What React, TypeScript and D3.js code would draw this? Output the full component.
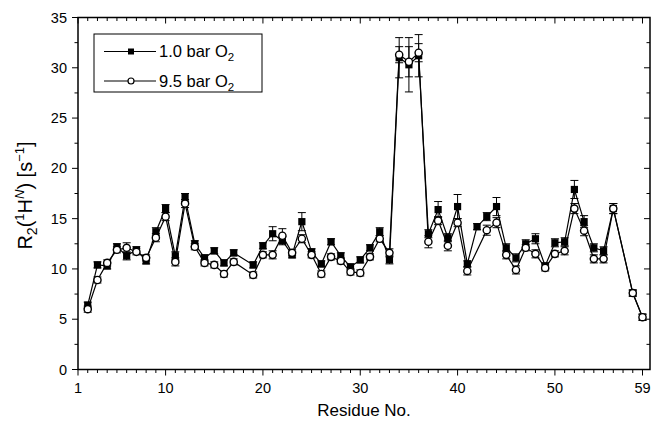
import React from "react";
import * as d3 from "d3";

const residues = [2,3,4,5,6,7,8,9,10,11,12,13,14,15,16,17,19,20,21,22,23,24,25,26,27,28,29,30,31,32,33,34,35,36,37,38,39,40,41,42,43,44,45,46,47,48,49,50,51,52,53,54,55,56,58,59];
const r1bar = [6.4,10.4,10.3,12.2,11.3,11.9,10.8,13.7,16.0,11.3,17.1,12.5,11.1,11.8,10.6,11.6,10.4,12.3,13.5,12.8,11.4,14.7,11.7,10.5,12.7,11.3,10.2,10.9,12.1,13.7,10.9,31.0,30.3,31.2,13.5,15.9,13.1,16.2,10.5,14.2,15.2,16.2,12.1,11.1,12.5,13.0,10.3,12.6,12.7,17.9,14.7,12.1,11.8,16.0,7.6,5.2];
const err1bar = [0.3,0.3,0.3,0.3,0.4,0.3,0.3,0.4,0.4,0.4,0.4,0.3,0.3,0.3,0.3,0.3,0.3,0.3,0.7,0.4,0.3,0.9,0.3,0.3,0.3,0.3,0.3,0.3,0.3,0.4,0.4,2.0,2.7,2.1,0.4,0.8,0.4,1.2,0.3,0.3,0.4,0.9,0.4,0.4,0.4,0.5,0.3,0.4,0.4,0.9,0.6,0.4,0.4,0.5,0.3,0.3];
const r9bar = [6.0,8.9,10.6,11.9,12.1,11.7,11.1,13.1,15.2,10.7,16.5,12.2,10.6,10.4,9.5,10.7,9.4,11.4,11.4,13.3,11.6,13.0,11.4,9.5,11.2,10.8,9.7,9.6,11.2,13.0,11.6,31.3,30.6,31.5,12.7,14.8,12.3,14.6,9.8,null,13.85,14.6,11.4,9.9,12.1,11.5,10.1,11.5,11.8,16.0,13.8,11.0,11.0,16.0,7.6,5.2];
const err9bar = [0.3,0.3,0.3,0.3,0.5,0.3,0.3,0.4,0.4,0.4,0.4,0.3,0.3,0.3,0.3,0.3,0.3,0.3,0.4,0.7,0.3,0.4,0.3,0.3,0.3,0.3,0.3,0.3,0.3,0.3,0.4,0.8,1.5,0.9,0.6,0.4,0.5,0.4,0.4,0,0.5,0.5,0.4,0.4,0.3,0.4,0.3,0.3,0.4,0.5,0.5,0.4,0.4,0.5,0.3,0.3];

const xMajor = [1,10,20,30,40,50,59];
const yMajor = [0,5,10,15,20,25,30,35];

const W = 652, H = 423;
const L = 78, R = 650, T = 17.5, B = 369.5;

export default function App() {
  const x = d3.scaleLinear().domain([1, 59.77]).range([L, R]);
  const y = d3.scaleLinear().domain([0, 35]).range([B, T]);
  const font = "Liberation Sans, Arial, Helvetica, sans-serif";

  const s1 = residues.map((r, i) => ({ r, v: r1bar[i], e: err1bar[i] }));
  const s9 = residues.map((r, i) => ({ r, v: r9bar[i], e: err9bar[i] })).filter(d => d.v != null) as { r: number; v: number; e: number }[];

  const line = d3.line<{ r: number; v: number }>().x(d => x(d.r)).y(d => y(d.v));

  const xMinor = d3.range(1, 60);
  const yMinor = d3.range(0, 35.01, 2.5);

  const errBars = (data: { r: number; v: number; e: number }[], key: string) =>
    data.map((d, i) => {
      if (!d.e) return null;
      const cx = x(d.r);
      const y1 = y(d.v + d.e), y2 = y(d.v - d.e);
      return (
        <g key={key + i} stroke="#000" strokeWidth={1}>
          <line x1={cx} x2={cx} y1={y1} y2={y2} />
          <line x1={cx - 4} x2={cx + 4} y1={y1} y2={y1} />
          <line x1={cx - 4} x2={cx + 4} y1={y2} y2={y2} />
        </g>
      );
    });

  return (
    <svg width={W} height={H} style={{ display: "block", position: "absolute", left: 0, top: 0 }} fontFamily={font}>
      <rect x={0} y={0} width={W} height={H} fill="#fff" />
      <rect x={L} y={T} width={R - L} height={B - T} fill="none" stroke="#000" strokeWidth={1.5} />
      {xMinor.map(v => {
        const major = xMajor.includes(v);
        const len = major ? 6 : 3.5;
        return (
          <g key={"xt" + v} stroke="#000" strokeWidth={1}>
            <line x1={x(v)} x2={x(v)} y1={B} y2={B + len} />
            <line x1={x(v)} x2={x(v)} y1={T} y2={T + len} />
          </g>
        );
      })}
      {xMajor.map(v => (
        <text key={"xl" + v} x={x(v)} y={393} fontSize={14.5} textAnchor="middle">{v}</text>
      ))}
      {yMinor.map(v => {
        const major = v % 5 === 0;
        const len = major ? 6 : 3.5;
        return (
          <g key={"yt" + v} stroke="#000" strokeWidth={1}>
            <line x1={L - len} x2={L} y1={y(v)} y2={y(v)} />
            <line x1={R - len} x2={R} y1={y(v)} y2={y(v)} />
          </g>
        );
      })}
      {yMajor.map(v => (
        <text key={"yl" + v} x={67} y={y(v) + 5} fontSize={14.5} textAnchor="end">{v}</text>
      ))}
      <text x={(L + R) / 2} y={416} fontSize={17} textAnchor="middle">Residue No.</text>
      <text transform={`translate(32,${(T + B) / 2 + 2}) rotate(-90)`} fontSize={20} textAnchor="middle">
        R<tspan fontSize={14} dy={5}>2</tspan>
        <tspan dy={-5}>(</tspan>
        <tspan fontSize={13} dy={-8}>1</tspan>
        <tspan dy={8}>H</tspan>
        <tspan fontSize={13} dy={-8} fontStyle="italic">N</tspan>
        <tspan dy={8}>) [s</tspan>
        <tspan fontSize={13} dy={-8}>−1</tspan>
        <tspan dy={8}>]</tspan>
      </text>
      <path d={line(s1) || ""} fill="none" stroke="#000" strokeWidth={1.2} />
      <path d={line(s9) || ""} fill="none" stroke="#000" strokeWidth={1.2} />
      {errBars(s1, "e1")}
      {errBars(s9, "e9")}
      {s1.map((d, i) => (
        <rect key={"m1" + i} x={x(d.r) - 3.6} y={y(d.v) - 3.6} width={7.2} height={7.2} fill="#000" />
      ))}
      {s9.map((d, i) => (
        <circle key={"m9" + i} cx={x(d.r)} cy={y(d.v)} r={3.6} fill="#fff" stroke="#000" strokeWidth={1.4} />
      ))}
      <rect x={94} y={34} width={168} height={58} fill="#fff" stroke="#000" strokeWidth={1} />
      <line x1={104} x2={156} y1={51.5} y2={51.5} stroke="#000" strokeWidth={1.2} />
      <rect x={131 - 3} y={51.5 - 3} width={6} height={6} fill="#000" />
      <text x={159} y={57} fontSize={16.5}>1.0 bar O<tspan fontSize={11.5} dy={4}>2</tspan></text>
      <line x1={104} x2={156} y1={81} y2={81} stroke="#000" strokeWidth={1.2} />
      <circle cx={131} cy={81} r={3} fill="#fff" stroke="#000" strokeWidth={1.2} />
      <text x={159} y={86.5} fontSize={16.5}>9.5 bar O<tspan fontSize={11.5} dy={4}>2</tspan></text>
    </svg>
  );
}
